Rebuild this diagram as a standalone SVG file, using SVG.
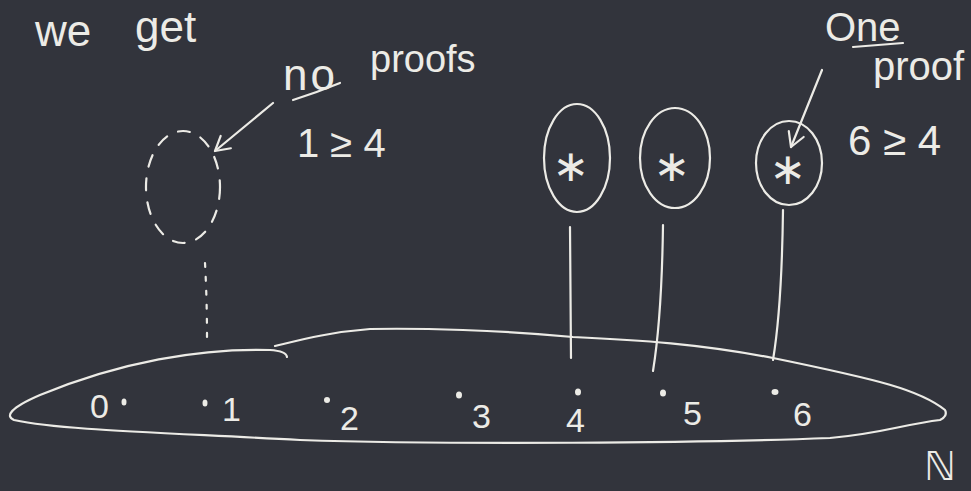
<svg xmlns="http://www.w3.org/2000/svg" width="971" height="491" viewBox="0 0 971 491">
<defs>
<style>
.bg{fill:#32343c}
.ln{fill:none;stroke:#ecebe6;stroke-width:2.2;stroke-linecap:round;stroke-linejoin:round}
.dash{stroke-dasharray:12 12}
.dot2{stroke-dasharray:4 10}
.t{fill:#ecebe6;font-family:"Liberation Sans",Arial,sans-serif}
.num{fill:#ecebe6;font-family:"Liberation Sans",Arial,sans-serif;font-size:34px}
.ast{fill:#ecebe6;font-family:"DejaVu Sans",sans-serif;font-size:44px;text-anchor:middle;dominant-baseline:central}
.pt{fill:#ecebe6}
</style>
<marker id="ah" viewBox="0 0 20 20" refX="18" refY="10" markerWidth="20" markerHeight="20" markerUnits="userSpaceOnUse" orient="auto">
<path d="M4,2 L18,10 L4,18" fill="none" stroke="#ecebe6" stroke-width="2.2" stroke-linecap="round" stroke-linejoin="round"/>
</marker>
</defs>
<rect class="bg" x="0" y="0" width="971" height="491"/>

<g id="title">
<text class="t" font-size="44"><tspan x="35" y="46">we</tspan><tspan x="135" y="42">get</tspan></text>
</g>

<g id="label-no-proofs">
<text class="t" font-size="44" x="283" y="90" letter-spacing="3">no</text>
<text class="t" font-size="38" x="370" y="72">proofs</text>
<path class="ln" d="M293,100 Q318,92 340,83"/>
<text class="t" font-size="40" x="297" y="157">1 ≥ 4</text>
</g>

<g id="label-one-proof">
<text class="t" font-size="40" x="825" y="41">One</text>
<path class="ln" d="M853,47 L903,43"/>
<text class="t" font-size="40" x="873" y="80">proof</text>
<text class="t" font-size="42" x="848" y="155">6 ≥ 4</text>
</g>

<g id="node-empty">
<ellipse class="ln dash" cx="183" cy="187" rx="37" ry="56"/>
</g>

<g id="node-4">
<ellipse class="ln" cx="577" cy="158" rx="33" ry="54"/>
<text class="ast" x="571" y="165">∗</text>
</g>
<g id="node-5">
<ellipse class="ln" cx="675" cy="158" rx="35" ry="50"/>
<text class="ast" x="672" y="165">∗</text>
</g>
<g id="node-6">
<ellipse class="ln" cx="789" cy="163" rx="33" ry="42"/>
<text class="ast" x="788" y="168">∗</text>
</g>

<g id="node-N">
<path class="ln" d="M287,357 Q286,351 270,350 C200,348 120,362 40,395 C10,408 5,416 14,420 C60,430 150,432 300,440 C450,445 700,443 830,438 C880,434 905,424 940,420 Q948,416 945,410 C920,390 880,380 773,358 C700,344 640,340 573,337 C500,330 420,328 370,329 C330,332 300,340 275,346"/>
<text class="num" x="90" y="418">0</text>
<ellipse class="pt" cx="124" cy="402" rx="2.5" ry="3.5"/>
<ellipse class="pt" cx="205" cy="403" rx="2.5" ry="3.5"/>
<text class="num" x="222" y="421">1</text>
<ellipse class="pt" cx="327" cy="400" rx="3" ry="3"/>
<text class="num" x="340" y="430">2</text>
<ellipse class="pt" cx="459" cy="395" rx="3" ry="3.5"/>
<text class="num" x="472" y="428">3</text>
<ellipse class="pt" cx="578" cy="392" rx="3" ry="3.5"/>
<text class="num" x="566" y="432">4</text>
<ellipse class="pt" cx="663" cy="393" rx="3" ry="3.5"/>
<text class="num" x="683" y="425">5</text>
<ellipse class="pt" cx="775" cy="392" rx="3.5" ry="3"/>
<text class="num" x="793" y="426">6</text>
<text fill="#ecebe6" font-family="DejaVu Sans,sans-serif" font-size="40" x="924" y="480">ℕ</text>
</g>

<g id="connectors">
<path class="ln dot2" d="M205,263 Q207,300 207,338"/>
<path class="ln" d="M570,227 L571,358"/>
<path class="ln" d="M663,225 C662,300 658,340 653,371"/>
<path class="ln" d="M783,210 C782,290 778,330 773,360"/>
<path class="ln" d="M273,103 L215,151" marker-end="url(#ah)"/>
<path class="ln" d="M822,70 L791,147" marker-end="url(#ah)"/>
</g>
</svg>
